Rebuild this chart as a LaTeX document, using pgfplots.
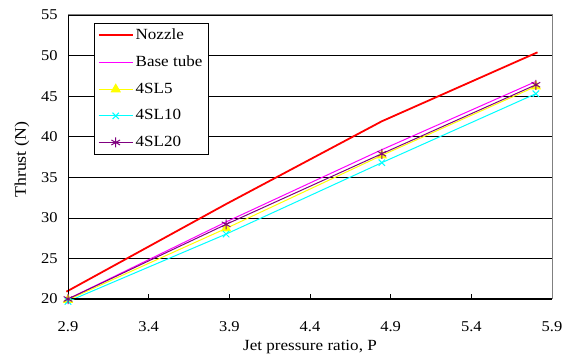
\documentclass[border=0pt]{standalone}
\usepackage{fontspec}
\setmainfont{Liberation Serif}[FakeStretch=1.1]
\usepackage{pgfplots}
\pgfplotsset{compat=1.18}
\definecolor{cPurple}{RGB}{128,0,128}
\definecolor{cCyan}{RGB}{0,255,255}
\definecolor{cYellow}{RGB}{255,255,0}
\definecolor{cMag}{RGB}{255,0,255}
\definecolor{cRed}{RGB}{255,0,0}
\begin{document}
\fontsize{15.5bp}{18bp}\selectfont
\begin{tikzpicture}
\begin{axis}[
  scale only axis,
  width=484bp, height=284bp,
  xmin=2.9, xmax=5.9, ymin=20, ymax=55,
  xtick={2.9,3.4,3.9,4.4,4.9,5.4,5.9},
  xticklabels={2.9,3.4,3.9,4.4,4.9,5.4,5.9},
  ytick={20,25,30,35,40,45,50,55},
  xtick pos=bottom, ytick pos=left,
  tick align=inside,
  major tick length=5bp,
  tick style={black, line width=0.7bp},
  ymajorgrids,
  grid style={black, line width=0.7bp},
  axis line style={gray, line width=1bp},
  /pgf/number format/assume math mode=true,
  tick label style={font=\fontsize{15bp}{18bp}\selectfont},
  yticklabel style={xshift=-5bp},
  xticklabel style={yshift=-17bp},
  xlabel={Jet pressure ratio, P},
  ylabel={Thrust (N)},
  x label style={at={(axis description cs:0.5,0)}, anchor=base, yshift=-51bp, font=\fontsize{15.5bp}{18bp}\selectfont},
  y label style={at={(axis description cs:-0.095,0.49)}, anchor=center, font=\fontsize{16.2bp}{18bp}\selectfont},
  clip=false,
  legend cell align=left,
  legend style={at={(axis description cs:0.0537,0.9718)}, anchor=north west,
    draw=black, line width=0.7bp, fill=white, font=\fontsize{15.5bp}{18bp}\selectfont,
    row sep=10bp, inner sep=3.5bp},
  legend image code/.code={\draw[mark repeat=2,mark phase=2,#1] plot coordinates {(0bp,0bp) (17bp,0bp) (34bp,0bp)};},
]
\addplot[cRed, line width=1.8bp, mark=none] coordinates {(2.89,20.9) (3.88,31.7) (4.845,41.9) (5.81,50.4)};
\addlegendentry{Nozzle}
\addplot[cMag, line width=1bp, mark=none] coordinates {(2.9,20.0) (3.88,29.5) (4.845,38.4) (5.8,46.8)};
\addlegendentry{Base tube}
\addplot[cYellow, line width=1bp, mark=triangle*, mark size=5bp, mark options={fill=cYellow}] coordinates {(2.9,19.9) (3.88,28.7) (4.845,37.7) (5.8,46.2)};
\addlegendentry{4SL5}
\addplot[cCyan, line width=1bp, mark=x, mark size=4.5bp] coordinates {(2.9,19.7) (3.88,28.0) (4.845,36.8) (5.8,45.3)};
\addlegendentry{4SL10}
\addplot[cPurple, line width=1bp, mark=asterisk, mark size=5bp] coordinates {(2.9,20.0) (3.88,29.2) (4.845,37.9) (5.8,46.4)};
\addlegendentry{4SL20}
\draw[black, line width=1bp] (rel axis cs:0,1) -- (rel axis cs:0,0) -- (rel axis cs:1,0);
\path (rel axis cs:-0.1405,-0.2007) rectangle (rel axis cs:1.0413,1.0528);
\end{axis}
\end{tikzpicture}
\end{document}
